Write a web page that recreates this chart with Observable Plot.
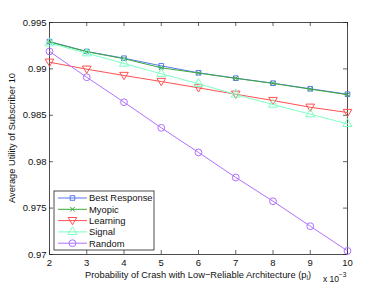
<!DOCTYPE html>
<html><head><meta charset="utf-8">
<script src="https://cdn.jsdelivr.net/npm/d3@7"></script>
<script src="https://cdn.jsdelivr.net/npm/@observablehq/plot@0.6"></script>
<style>
html,body{margin:0;padding:0;background:#fff;}
#chart{position:relative;width:382px;height:286px;}
svg{font-family:"Liberation Sans",Arial,sans-serif;}
</style></head>
<body><div id="chart"></div>
<script>
const pl = [2, 3, 4, 5, 6, 7, 8, 9, 10];
const seriesNames = ["Best Response", "Myopic", "Learning", "Signal", "Random"];
const bestResponse = [0.99295, 0.99188, 0.99115, 0.99033, 0.98958, 0.98900, 0.98846, 0.98786, 0.98727];
const myopic       = [0.99290, 0.99185, 0.99110, 0.99012, 0.98955, 0.98898, 0.98844, 0.98782, 0.98722];
const learning     = [0.99072, 0.98997, 0.98929, 0.98864, 0.98796, 0.98727, 0.98659, 0.98587, 0.98530];
const signal       = [0.99277, 0.99169, 0.99058, 0.98947, 0.98840, 0.98724, 0.98616, 0.98512, 0.98408];
const random       = [0.99188, 0.98910, 0.98641, 0.98365, 0.98100, 0.97830, 0.97574, 0.97305, 0.97039];
const xTicks = [2, 3, 4, 5, 6, 7, 8, 9, 10];
const yTicks = [0.97, 0.975, 0.98, 0.985, 0.99, 0.995];
const colors = ["#5a78f0", "#3aa83a", "#ff5050", "#7dffc4", "#b070ff"];

const triDown = {draw(ctx, size) {
  const s = Math.sqrt(size / 0.75);
  ctx.moveTo(0, s * 0.6);
  ctx.lineTo(s * 0.62, -s * 0.45);
  ctx.lineTo(-s * 0.62, -s * 0.45);
  ctx.closePath();
}};
const symbols = ["square", "times", triDown, "triangle", "circle"];
const sizes = [2.6, 2.2, 3.4, 3.4, 3.4];

const allSeries = [bestResponse, myopic, learning, signal, random];
const rows = [];
allSeries.forEach((vals, si) => vals.forEach((v, i) => rows.push({series: seriesNames[si], si, x: pl[i], y: v})));

const W = 382, H = 286, mL = 49, mR = 35, mT = 22, mB = 32;
const ph = H - mT - mB, pw = W - mL - mR;
const marks = [
  Plot.frame({stroke: "#222", strokeWidth: 0.8}),
  Plot.tickX(xTicks, {x: d => d, insetBottom: ph - 4, stroke: "#222", strokeWidth: 0.7}),
  Plot.tickX(xTicks, {x: d => d, insetTop: ph - 4, stroke: "#222", strokeWidth: 0.7}),
  Plot.tickY(yTicks, {y: d => d, insetRight: pw - 4, stroke: "#222", strokeWidth: 0.7}),
  Plot.tickY(yTicks, {y: d => d, insetLeft: pw - 4, stroke: "#222", strokeWidth: 0.7}),
  Plot.axisX(xTicks, {tickSize: 0, tickPadding: 5, fontSize: 9.5, fill: "#111", label: null}),
  Plot.axisY(yTicks, {tickSize: 0, tickPadding: 3, fontSize: 9.5, fill: "#111", label: null, tickFormat: d => String(+d.toFixed(3))})
];
seriesNames.forEach((name, si) => {
  const data = rows.filter(r => r.si === si);
  marks.push(Plot.line(data, {x: "x", y: "y", stroke: colors[si], strokeWidth: 1}));
  marks.push(Plot.dot(data, {x: "x", y: "y", stroke: colors[si], symbol: () => symbols[si], r: sizes[si], strokeWidth: 1, fill: "none"}));
});

const chart = Plot.plot({
  width: W, height: H,
  marginLeft: mL, marginRight: mR, marginTop: mT, marginBottom: mB,
  x: {domain: [2, 10]},
  y: {domain: [0.97, 0.995]},
  symbol: {type: "identity"},
  style: {fontFamily: "Liberation Sans, Arial, sans-serif", background: "#fff"},
  marks
});
document.getElementById("chart").appendChild(chart);

const svg = d3.select(chart);
// axis titles
svg.append("text").attr("x", 198).attr("y", 278).attr("text-anchor", "middle")
  .attr("font-size", 9.3).attr("fill", "#111")
  .html('Probability of Crash with Low\u2212Reliable Architecture (p<tspan font-size="6.5" dy="2">l</tspan><tspan dy="-2">)</tspan>');
svg.append("text").attr("transform", `translate(15,${(mT + H - mB) / 2}) rotate(-90)`).attr("text-anchor", "middle")
  .attr("font-size", 9.3).attr("fill", "#111").text("Average Utility of Subscriber 10");
svg.append("text").attr("x", 323).attr("y", 282).attr("text-anchor", "start").attr("font-size", 8.5).attr("fill", "#111")
  .html('x 10<tspan font-size="6.5" dy="-5">\u22123</tspan>');

// legend
const lg = svg.append("g").attr("text-anchor", "start");
lg.append("rect").attr("x", 54).attr("y", 191).attr("width", 100).attr("height", 59)
  .attr("fill", "#fff").attr("stroke", "#222").attr("stroke-width", 0.8);
seriesNames.forEach((name, si) => {
  const y = 198 + si * 11.3;
  lg.append("line").attr("x1", 58).attr("x2", 87).attr("y1", y).attr("y2", y).attr("stroke", colors[si]).attr("stroke-width", 1);
  const r = sizes[si];
  const sym = typeof symbols[si] === "string" ? {square: d3.symbolSquare, times: d3.symbolTimes, triangle: d3.symbolTriangle, circle: d3.symbolCircle}[symbols[si]] : symbols[si];
  lg.append("path").attr("transform", `translate(72.5,${y})`).attr("d", d3.symbol(sym, r * r * Math.PI)())
    .attr("fill", "none").attr("stroke", colors[si]).attr("stroke-width", 1);
  lg.append("text").attr("x", 89).attr("y", y + 3.4).attr("text-anchor", "start").attr("font-size", 9.4).attr("fill", "#111").text(name);
});
</script></body></html>
